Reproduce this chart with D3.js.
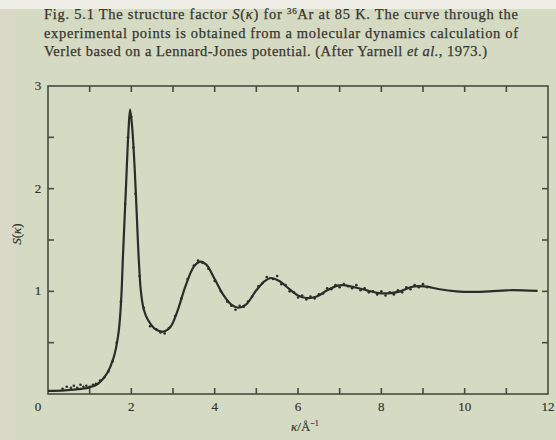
<!DOCTYPE html>
<html>
<head>
<meta charset="utf-8">
<script src="https://cdn.jsdelivr.net/npm/d3@7"></script>
<style>
  html, body { margin: 0; padding: 0; background: #d5dbc3; }
  svg { display: block; }
</style>
</head>
<body>
<div id="chart"></div>
<script>
// curve from the MD calculation (kappa in 1/Å, S)
const curveK = [0.0, 0.4, 0.8, 1.0, 1.2, 1.4, 1.5, 1.6, 1.7, 1.76, 1.8, 1.87, 1.93, 1.97, 2.02, 2.08, 2.13, 2.18, 2.23, 2.3, 2.4, 2.55, 2.7, 2.8, 2.95, 3.1, 3.3, 3.5, 3.65, 3.8, 4.0, 4.2, 4.4, 4.57, 4.75, 5.0, 5.2, 5.35, 5.55, 5.8, 6.0, 6.2, 6.45, 6.7, 6.95, 7.1, 7.35, 7.65, 7.9, 8.15, 8.45, 8.7, 8.9, 9.1, 9.4, 9.8, 10.2, 10.6, 11.0, 11.4, 11.75]
const curveS = [0.03, 0.035, 0.05, 0.065, 0.1, 0.19, 0.27, 0.39, 0.62, 0.95, 1.35, 2.0, 2.55, 2.77, 2.6, 2.2, 1.75, 1.3, 1.0, 0.82, 0.72, 0.64, 0.61, 0.61, 0.66, 0.8, 1.05, 1.24, 1.29, 1.26, 1.12, 0.97, 0.87, 0.84, 0.87, 1.01, 1.1, 1.13, 1.1, 1.02, 0.96, 0.935, 0.95, 1.01, 1.055, 1.06, 1.04, 1.01, 0.985, 0.98, 1.0, 1.04, 1.05, 1.045, 1.02, 1.0, 0.995, 1.0, 1.01, 1.01, 1.005]

// experimental points
const expK = [0.35, 0.45, 0.55, 0.62, 0.7, 0.78, 0.85, 0.92, 1.0, 1.08, 1.15, 1.25, 1.35, 1.45, 1.55, 1.65, 1.75, 1.85, 1.92, 2.0, 2.05, 2.1, 2.2, 2.3, 2.45, 2.6, 2.7, 2.8, 2.9, 3.05, 3.2, 3.35, 3.5, 3.6, 3.7, 3.85, 4.0, 4.15, 4.3, 4.4, 4.5, 4.6, 4.7, 4.8, 4.9, 5.05, 5.15, 5.25, 5.4, 5.5, 5.6, 5.7, 5.8, 5.9, 6.0, 6.1, 6.2, 6.3, 6.4, 6.5, 6.6, 6.7, 6.8, 6.9, 7.0, 7.1, 7.2, 7.3, 7.4, 7.5, 7.6, 7.7, 7.8, 7.9, 8.0, 8.1, 8.2, 8.3, 8.4, 8.5, 8.6, 8.7, 8.8, 8.9, 9.0, 9.1]
const expS = [0.05, 0.07, 0.06, 0.08, 0.06, 0.09, 0.07, 0.08, 0.07, 0.09, 0.1, 0.13, 0.16, 0.22, 0.32, 0.5, 0.9, 1.85, 2.5, 2.7, 2.4, 1.95, 1.15, 0.84, 0.66, 0.63, 0.6, 0.59, 0.64, 0.76, 0.93, 1.12, 1.25, 1.3, 1.28, 1.22, 1.1, 1.0, 0.9, 0.86, 0.82, 0.86, 0.85, 0.9, 0.95, 1.05, 1.08, 1.14, 1.12, 1.15, 1.07, 1.06, 1.0, 0.99, 0.94, 0.96, 0.92, 0.95, 0.93, 0.97, 0.98, 1.03, 1.02, 1.06, 1.04, 1.07, 1.05, 1.03, 1.06, 1.01, 1.03, 0.99, 1.0, 0.97, 1.0, 0.96, 0.99, 0.97, 1.01, 0.99, 1.04, 1.02, 1.06, 1.04, 1.07, 1.04]

const xTicks = d3.range(0, 13, 1)
const xLabels = [2, 4, 6, 8, 10, 12]
const yTicks = [0.5, 1, 1.5, 2, 2.5]
const yLabels = [1, 2, 3]

const captionLines = [
  ['Fig. 5.1 The structure factor ', { t: 'S', i: true }, '(', { t: 'κ', i: true }, ') for ', { t: '36', sup: true }, { t: 'Ar at 85 K. The curve through the', down: true }],
  ['experimental points is obtained from a molecular dynamics calculation of'],
  ['Verlet based on a Lennard-Jones potential. (After Yarnell ', { t: 'et al.', i: true }, ', 1973.)']
]

// ===================================================================

const WIDTH = 556
const HEIGHT = 440
const INK = '#35352f'
const SERIF = '"Liberation Serif", "DejaVu Serif", serif'

const svg = d3.select('#chart').append('svg')
  .attr('width', WIDTH)
  .attr('height', HEIGHT)

svg.append('rect')
  .attr('width', WIDTH)
  .attr('height', HEIGHT)
  .attr('fill', '#d5dbc3')

svg.append('rect')
  .attr('width', 16)
  .attr('height', HEIGHT)
  .attr('fill', '#dad9c7')

svg.append('rect')
  .attr('width', WIDTH)
  .attr('height', 9)
  .attr('fill', '#eeeee6')

const x = d3.scaleLinear().domain([0, 12]).range([48, 548])
const y = d3.scaleLinear().domain([0, 3]).range([394, 86])

// caption
const caption = svg.append('g')
  .attr('font-family', SERIF)
  .attr('font-size', 14.5)
  .attr('fill', INK)
  .attr('stroke', INK)
  .attr('stroke-width', 0.25)

const lineLengths = [474, 474, 443]
captionLines.forEach((parts, i) => {
  const t = caption.append('text')
    .attr('x', 44)
    .attr('y', 19 + i * 18.5)
    .attr('textLength', lineLengths[i])
    .attr('lengthAdjust', 'spacing')
  parts.forEach(p => {
    if (typeof p === 'string') {
      t.append('tspan').text(p)
    } else if (p.sup) {
      t.append('tspan').attr('font-size', 9).attr('dy', -5).text(p.t)
    } else if (p.down) {
      t.append('tspan').attr('dy', 5).text(p.t)
    } else {
      t.append('tspan').attr('font-style', 'italic').text(p.t)
    }
  })
})

// frame
svg.append('rect')
  .attr('x', x(0))
  .attr('y', y(3))
  .attr('width', x(12) - x(0))
  .attr('height', y(0) - y(3))
  .attr('fill', 'none')
  .attr('stroke', '#4a4a42')
  .attr('stroke-width', 1.6)

const TICK = 6
const axisG = svg.append('g')
  .attr('stroke', '#4a4a42')
  .attr('stroke-width', 1.6)

xTicks.slice(1, -1).forEach(k => {
  axisG.append('line')
    .attr('x1', x(k)).attr('x2', x(k))
    .attr('y1', y(0)).attr('y2', y(0) - TICK)
  axisG.append('line')
    .attr('x1', x(k)).attr('x2', x(k))
    .attr('y1', y(3)).attr('y2', y(3) + TICK)
})

yTicks.forEach(s => {
  axisG.append('line')
    .attr('x1', x(0)).attr('x2', x(0) + TICK)
    .attr('y1', y(s)).attr('y2', y(s))
  axisG.append('line')
    .attr('x1', x(12)).attr('x2', x(12) - TICK)
    .attr('y1', y(s)).attr('y2', y(s))
})

const labels = svg.append('g')
  .attr('font-family', SERIF)
  .attr('font-size', 13)
  .attr('fill', INK)
  .attr('stroke', INK)
  .attr('stroke-width', 0.2)

labels.append('text')
  .attr('x', 38).attr('y', 411)
  .attr('text-anchor', 'middle')
  .text('0')

labels.selectAll('.xl')
  .data(xLabels)
  .enter().append('text')
    .attr('x', d => x(d))
    .attr('y', 411)
    .attr('text-anchor', 'middle')
    .text(d => d)

labels.selectAll('.yl')
  .data(yLabels)
  .enter().append('text')
    .attr('x', 38)
    .attr('y', d => y(d) + 4)
    .attr('text-anchor', 'middle')
    .text(d => d)

// axis titles
const xt = labels.append('text')
  .attr('x', 305).attr('y', 431)
  .attr('text-anchor', 'middle')
xt.append('tspan').attr('font-style', 'italic').text('κ')
xt.append('tspan').text('/Å')
xt.append('tspan').attr('font-size', 8).attr('dy', -5).text('−1')

const yt = labels.append('text')
  .attr('transform', 'translate(21, 234) rotate(-90)')
  .attr('text-anchor', 'middle')
yt.append('tspan').attr('font-style', 'italic').text('S')
yt.append('tspan').text('(')
yt.append('tspan').attr('font-style', 'italic').text('κ')
yt.append('tspan').text(')')

// curve
const curveData = curveK.map((k, i) => ({ k, s: curveS[i] }))
const line = d3.line()
  .x(d => x(d.k))
  .y(d => y(d.s))
  .curve(d3.curveCatmullRom.alpha(0.5))

svg.append('path')
  .datum(curveData)
  .attr('d', line)
  .attr('fill', 'none')
  .attr('stroke', '#2c2d28')
  .attr('stroke-width', 2.2)

// experimental points
const expData = expK.map((k, i) => ({ k, s: expS[i] }))
svg.append('g')
  .selectAll('circle')
  .data(expData)
  .enter().append('circle')
    .attr('cx', d => x(d.k))
    .attr('cy', d => y(d.s))
    .attr('r', 1.3)
    .attr('fill', '#2c2d28')
</script>
</body>
</html>
